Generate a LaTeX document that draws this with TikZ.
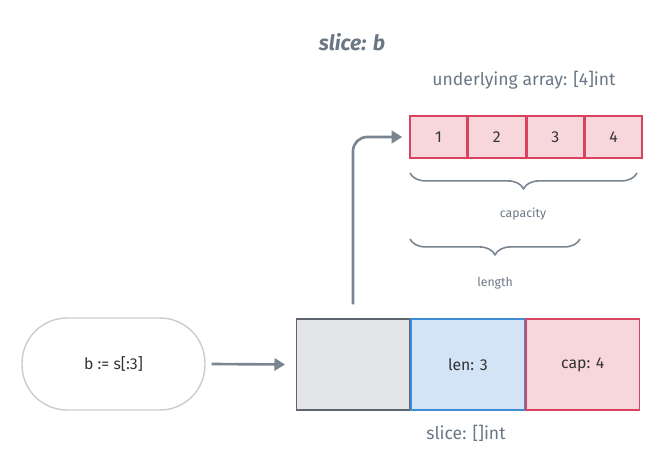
\documentclass[tikz,border=0pt]{standalone}
\usepackage{fontspec}
\setmainfont{Fira Sans}
\usepackage{xcolor}
\usetikzlibrary{positioning,decorations.pathreplacing,arrows.meta}
\definecolor{txtgray}{HTML}{6B7785}
\definecolor{arrgray}{HTML}{7A8591}
\definecolor{cellred}{HTML}{D9435E}
\definecolor{cellpink}{HTML}{F7D6DC}
\definecolor{cellblue}{HTML}{D2E4F5}
\definecolor{edgeblue}{HTML}{3C8CD6}
\definecolor{boxgray}{HTML}{E3E5E7}
\definecolor{edgegray}{HTML}{5D6670}
\tikzset{
  cell/.style={draw=cellred, fill=cellpink, thick, minimum width=1.14cm, minimum height=0.84cm, inner sep=0pt, font=\small, text=black!80},
  slot/.style={thick, minimum width=2.27cm, minimum height=1.82cm, inner sep=0pt, font=\small, text=black!80},
  caption/.style={text=txtgray, font=\small},
  tiny/.style={text=txtgray, font=\scriptsize},
  brc/.style={draw=arrgray, line width=0.9pt, decorate, decoration={brace, mirror, amplitude=9pt}},
  conn/.style={draw=arrgray, line width=1.5pt, -{Triangle[length=6pt,width=7pt]}}
}
\begin{document}
\begin{tikzpicture}[x=0.02cm, y=-0.02cm]
  \useasboundingbox (0,0) rectangle (660,467);
  \node[text=txtgray, font=\large\bfseries\itshape] (title) at (352,42) {slice: b};
  % underlying array
  \node[caption, font=\normalsize] (arrlbl) at (524,80) {underlying array: [4]int};
  \node[cell] (c1) at (438.5,137) {1};
  \node[cell, right=0pt of c1] (c2) {2};
  \node[cell, right=0pt of c2] (c3) {3};
  \node[cell, right=0pt of c3] (c4) {4};
  \coordinate (capl) at (410,173);
  \coordinate (capr) at (637,173);
  \draw[brc] (capl) -- (capr);
  \node[tiny] (caplbl) at (523,214) {capacity};
  \coordinate (lenl) at (410,239);
  \coordinate (lenr) at (580,239);
  \draw[brc] (lenl) -- (lenr);
  \node[tiny] (lenlbl) at (495,283) {length};
  % slice header
  \node[slot, draw=edgegray, fill=boxgray] (ptr) at (353,364.5) {};
  \node[slot, draw=edgeblue, fill=cellblue, right=0pt of ptr] (len) {len: 3};
  \node[slot, draw=cellred, fill=cellpink, right=0pt of len] (cap) {cap: 4};
  \node[caption, font=\normalsize] (slicelbl) at (466,433) {slice: []int};
  % expression
  \node[draw=black!20, thick, rounded corners=0.9cm, minimum width=3.66cm, minimum height=1.84cm, font=\small, text=black!80] (expr) at (113.5,364) {b := s[:3]};
  \draw[conn] (expr.east) ++(6,0) -- ([xshift=-6pt]ptr.west);
  \draw[conn, rounded corners=8pt] ([yshift=8pt]ptr.north) |- ([xshift=-4pt]c1.west);
\end{tikzpicture}
\end{document}
